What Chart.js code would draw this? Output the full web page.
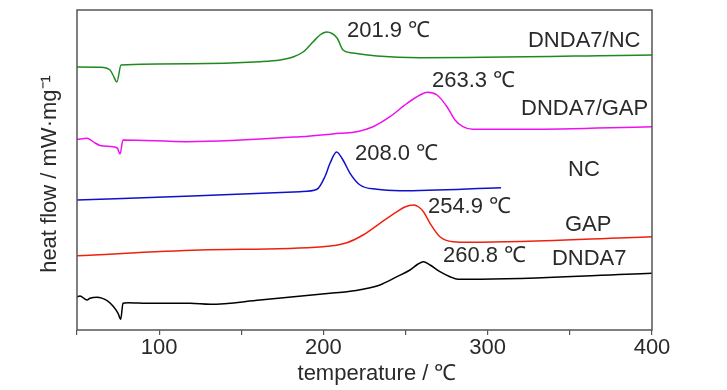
<!DOCTYPE html>
<html>
<head>
<meta charset="utf-8">
<script src="https://cdn.jsdelivr.net/npm/chart.js@4"></script>
<style>
  html, body { margin: 0; padding: 0; background: #fff; }
</style>
</head>
<body>
<canvas id="dsc-chart" width="727" height="390"></canvas>
<script>
// temperature (°C) and heat flow (arbitrary units, curves offset for display)
const dndaNcTemp = [50, 64, 70.1, 71.9, 74.3, 76.8, 118.8, 161.4, 173.6, 181.5, 187.6, 193.6, 197.9, 201.9, 208.3, 211.9, 218, 232.6, 258.8, 400];
const dndaNcFlow = [263, 262.7, 260, 255, 248, 265, 266.3, 268.3, 270, 273, 278, 288, 295, 298, 292, 280, 277, 274, 272.3, 275];

const dndaGapTemp = [50, 56.1, 61, 64, 70.1, 74.5, 76.2, 78, 117, 185.7, 210.1, 220.4, 230.2, 240.5, 250.9, 258.8, 263.3, 269.1, 275.2, 280.1, 284.9, 291, 323.9, 400];
const dndaGapFlow = [190.7, 191.7, 187, 184.5, 183.5, 182, 176, 190, 188.3, 193.3, 196.7, 198.3, 203.3, 213.3, 226.7, 235, 237.7, 235, 223.3, 210, 203.3, 200.7, 200.7, 203.3];

const ncTemp = [50, 120, 185.7, 196.1, 200.9, 204, 208, 211.9, 216.2, 222.3, 232.6, 246.6, 308.1];
const ncFlow = [130, 134, 138.3, 140.7, 153.3, 166.7, 178, 170, 156.7, 145, 140.7, 139.3, 142.3];

const gapTemp = [50, 124.9, 199.7, 214.3, 224.1, 234.4, 244.8, 249.5, 254.9, 258, 261, 264.9, 270.9, 278.9, 289.2, 400];
const gapFlow = [74.3, 80, 83.3, 87.3, 95, 106.7, 118.3, 123, 125, 123, 118, 106.7, 93.3, 88.3, 87.7, 93.3];

const dndaTemp = [50, 51.8, 56.1, 57.9, 62.2, 68.3, 71.9, 75, 76.6, 78, 81, 94.4, 118.8, 131, 161.4, 204, 214.3, 224.1, 234.4, 244.8, 252.7, 257.6, 260.8, 264.9, 270.9, 277, 281.9, 289.2, 400];
const dndaFlow = [33.3, 34, 30, 31.7, 32.7, 29.3, 24, 16.7, 10.7, 26.7, 27.3, 26.7, 26.7, 25.7, 30, 36.7, 38.3, 40.7, 45, 53.3, 60, 66, 68.3, 65, 58.3, 53.3, 50.7, 50.7, 56.7];

const xTickLabels = [100, 200, 300, 400];

// text placed next to the curves (temperature, flow)
const notes = [
  { text: '201.9 ℃', t: 214.3, v: 299 },
  { text: 'DNDA7/NC', t: 324.5, v: 289 },
  { text: '263.3 ℃', t: 266.1, v: 249 },
  { text: 'DNDA7/GAP', t: 320.3, v: 221 },
  { text: '208.0 ℃', t: 219.2, v: 176 },
  { text: 'NC', t: 348.9, v: 160 },
  { text: '254.9 ℃', t: 263.6, v: 123 },
  { text: 'GAP', t: 347, v: 105 },
  { text: '260.8 ℃', t: 272.8, v: 74 },
  { text: 'DNDA7', t: 339.1, v: 71 }
];

const FONT = '22px "Liberation Sans", Arial, sans-serif';
const TEXT = '#2a2a2a';

function pairs(xs, ys) {
  return xs.map((x, i) => ({ x: x, y: ys[i] }));
}

function curve(xs, ys, color) {
  return {
    data: pairs(xs, ys),
    borderColor: color,
    borderWidth: 1.5,
    pointRadius: 0,
    fill: false,
    cubicInterpolationMode: 'monotone'
  };
}

const frameAndText = {
  id: 'frameAndText',
  afterDatasetsDraw(chart) {
    const { ctx, chartArea: a, scales: { x, y } } = chart;
    ctx.save();
    ctx.strokeStyle = '#555';
    ctx.lineWidth = 1.5;
    ctx.strokeRect(a.left, a.top, a.right - a.left, a.bottom - a.top);

    ctx.fillStyle = TEXT;
    ctx.font = FONT;
    ctx.textAlign = 'left';
    ctx.textBaseline = 'middle';
    notes.forEach(n => {
      ctx.fillText(n.text, x.getPixelForValue(n.t), y.getPixelForValue(n.v));
    });

    // axis titles
    ctx.textAlign = 'center';
    ctx.fillText('temperature / ℃', 377, 374);
    ctx.translate(50, 174);
    ctx.rotate(-Math.PI / 2);
    ctx.fillText('heat flow / mW·mg⁻¹', 0, 0);
    ctx.restore();
  }
};

const ctx = document.getElementById('dsc-chart').getContext('2d');
const dscChart = new Chart(ctx, {
  type: 'line',
  data: {
    datasets: [
      curve(dndaNcTemp, dndaNcFlow, '#1e8a1e'),
      curve(dndaGapTemp, dndaGapFlow, '#ee10ee'),
      curve(ncTemp, ncFlow, '#1010cc'),
      curve(gapTemp, gapFlow, '#f02010'),
      curve(dndaTemp, dndaFlow, '#000000')
    ]
  },
  options: {
    responsive: false,
    animation: false,
    devicePixelRatio: 1,
    layout: { padding: { top: 10, right: 75, left: 0, bottom: 0 } },
    plugins: {
      legend: { display: false },
      tooltip: { enabled: false }
    },
    scales: {
      x: {
        type: 'linear',
        min: 50,
        max: 400,
        afterFit: s => { s.height = 60; },
        border: { display: false },
        grid: { drawOnChartArea: false, color: '#555', tickLength: 5, lineWidth: 1.2 },
        ticks: {
          stepSize: 50,
          autoSkip: false,
          maxRotation: 0,
          padding: 0,
          color: TEXT,
          font: { family: '"Liberation Sans", Arial, sans-serif', size: 22 },
          callback: v => xTickLabels.includes(v) ? String(v) : ''
        }
      },
      y: {
        min: 0,
        max: 320,
        afterFit: s => { s.width = 77; },
        border: { display: false },
        grid: { display: false },
        ticks: { display: false }
      }
    }
  },
  plugins: [frameAndText]
});
</script>
</body>
</html>
